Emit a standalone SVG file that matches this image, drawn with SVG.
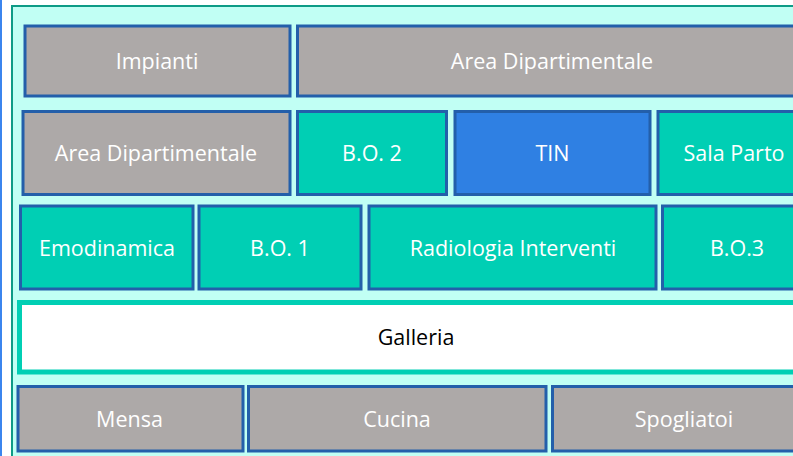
<svg xmlns="http://www.w3.org/2000/svg" width="793" height="456" viewBox="0 0 793 456">
<style>
.room{stroke:#235FAA;stroke-width:3}
.gray{fill:#ADA9A8}
.teal{fill:#00CFB4}
.blue{fill:#2F80E3}
.lbl{font-family:"Open Sans","Liberation Sans",sans-serif;font-size:21.5px;fill:#FFFFFF;text-anchor:middle}
.dark{fill:#000000}
</style>
<rect x="0" y="0" width="793" height="456" fill="#FFFFFF"/>
<rect x="0" y="0" width="2" height="456" fill="#3B85EE"/>
<rect id="container" x="12" y="6" width="800" height="470" fill="#C1FFF4" stroke="#0E9B86" stroke-width="2"/>
<g id="impianti"><rect class="room gray" x="25" y="26" width="265" height="70"/><text class="lbl" x="157" y="68.5">Impianti</text></g>
<g id="area-dip-1"><rect class="room gray" x="297.5" y="26" width="520" height="70"/><text class="lbl" x="552" y="68.5">Area Dipartimentale</text></g>
<g id="area-dip-2"><rect class="room gray" x="23" y="111.5" width="267" height="83"/><text class="lbl" x="156" y="160.5">Area Dipartimentale</text></g>
<g id="bo2"><rect class="room teal" x="297.5" y="111.5" width="149" height="83"/><text class="lbl" x="372" y="160.5">B.O. 2</text></g>
<g id="tin"><rect class="room blue" x="455" y="111.5" width="195" height="83"/><text class="lbl" x="552.5" y="160.5">TIN</text></g>
<g id="sala-parto"><rect class="room teal" x="658" y="111.5" width="200" height="83"/><text class="lbl" x="734" y="160.5">Sala Parto</text></g>
<g id="emodinamica"><rect class="room teal" x="20.5" y="206" width="172.5" height="83"/><text class="lbl" x="107" y="255.5">Emodinamica</text></g>
<g id="bo1"><rect class="room teal" x="199" y="206" width="162" height="83"/><text class="lbl" x="280" y="255.5">B.O. 1</text></g>
<g id="radiologia"><rect class="room teal" x="369" y="206" width="287" height="83"/><text class="lbl" x="513" y="255.5">Radiologia Interventi</text></g>
<g id="bo3"><rect class="room teal" x="662.5" y="206" width="200" height="83"/><text class="lbl" x="737" y="255.5">B.O.3</text></g>
<g id="galleria"><rect x="19.5" y="302.5" width="800" height="69.5" fill="#FFFFFF" stroke="#00CFB4" stroke-width="5"/><text class="lbl dark" x="416" y="344.5">Galleria</text></g>
<g id="mensa"><rect class="room gray" x="18" y="386.5" width="225" height="64.5"/><text class="lbl" x="129.5" y="426.5">Mensa</text></g>
<g id="cucina"><rect class="room gray" x="248.5" y="386.5" width="297.5" height="64.5"/><text class="lbl" x="397" y="426.5">Cucina</text></g>
<g id="spogliatoi"><rect class="room gray" x="552.5" y="386.5" width="300" height="64.5"/><text class="lbl" x="684" y="426.5">Spogliatoi</text></g>
<g id="connectors"/>
</svg>
